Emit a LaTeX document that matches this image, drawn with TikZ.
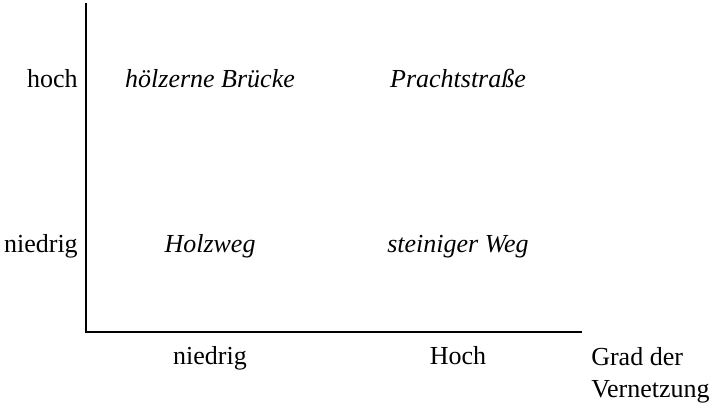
\documentclass[tikz,border=0pt]{standalone}
\usepackage{fontspec}
\setmainfont{Liberation Serif}
\begin{document}
\begin{tikzpicture}[x=0.75pt,y=-0.75pt]

\tikzset{axis/.style = {draw,line width=0.9pt}}
\tikzset{level/.style = {anchor=base east,inner sep=0pt,font=\fontsize{19.5}{24}\selectfont}}
\tikzset{field/.style = {anchor=base,inner sep=0pt,font=\fontsize{19.5}{24}\selectfont\itshape}}
\tikzset{tick/.style = {anchor=base,inner sep=0pt,font=\fontsize{19.5}{24}\selectfont}}
\useasboundingbox (0,0) rectangle (720,411);
% axes
\coordinate (top) at (86,3);
\coordinate (o) at (86,332);
\coordinate (right) at (582,332);
\draw[axis] (top) -- (o) -- (right);
% y labels
\node[level] (yhi) at (78,87) {hoch};
\node[level] (ylo) at (78,252) {niedrig};
% fields
\node[field] (bruecke) at (210,87) {hölzerne Brücke};
\node[field] (pracht) at (458,87) {Prachtstraße};
\node[field] (holz) at (210,252) {Holzweg};
\node[field] (stein) at (458,252) {steiniger Weg};
% x labels
\node[tick] (xlo) at (210,364) {niedrig};
\node[tick] (xhi) at (458,364) {Hoch};
\node[tick,anchor=base west,align=left] (grad) at (591,397) {Grad der\\Vernetzung};
\end{tikzpicture}
\end{document}
